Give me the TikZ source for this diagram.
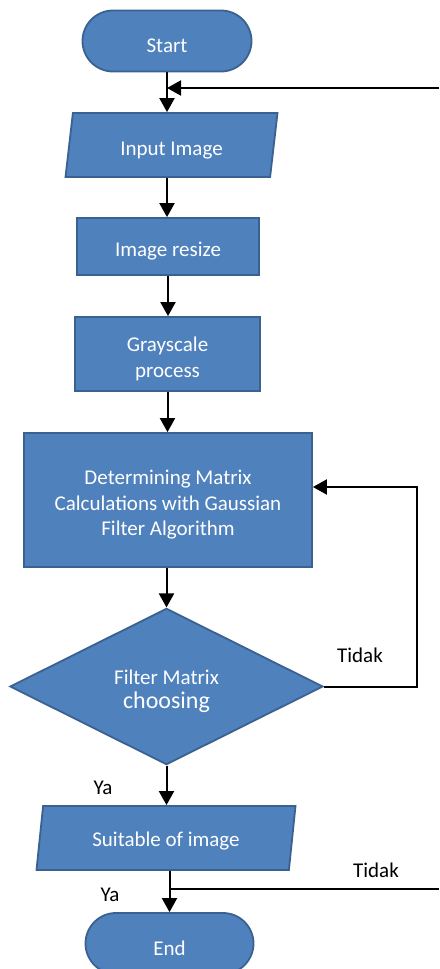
\documentclass[tikz,border=0pt]{standalone}
\usepackage{fontspec}
\setmainfont{Carlito}
\usetikzlibrary{shapes.geometric,shapes.misc,arrows.meta}
\definecolor{boxblue}{HTML}{4F81BD}
\definecolor{boxline}{HTML}{3A6190}
\newcommand{\lowtxt}{\rule{0pt}{24pt}}
\begin{document}
\begin{tikzpicture}[x=1pt,y=-1pt,font=\fontsize{21}{25.5}\selectfont,
 box/.style={draw=boxline,line width=1.8pt,fill=boxblue,text=white,align=center,inner sep=0pt},
 term/.style={box,rounded rectangle},
 io/.style={box,trapezium,trapezium left angle=75,trapezium right angle=105,trapezium stretches body},
 arr/.style={line width=2pt,-{Triangle[width=15pt,length=14pt]}},
 lbl/.style={inner sep=0pt}]
\useasboundingbox (0,0) rectangle (439,969);
\node[term,minimum width=169,minimum height=61] (start) at (167,41) {\lowtxt Start};
\node[io,minimum width=212,minimum height=64] (in) at (171.5,145) {\lowtxt Input Image};
\node[box,minimum width=182,minimum height=57] (rs) at (168,246.5) {\lowtxt Image resize};
\node[box,minimum width=185,minimum height=74] (gs) at (167.5,354) {\lowtxt Grayscale\\process};
\node[box,minimum width=288,minimum height=134] (dm) at (168,500) {\lowtxt Determining Matrix\\Calculations with Gaussian\\Filter Algorithm};
\node[box,diamond,minimum width=313,minimum height=155] (dc) at (166.5,686.5) {\lowtxt Filter Matrix\\[-2pt]{\fontsize{24}{26}\selectfont choosing}};
\node[io,minimum width=259,minimum height=64] (su) at (166,838) {\rule{0pt}{21pt}Suitable of image};
\node[term,minimum width=168,minimum height=61] (en) at (169.5,943.5) {\lowtxt End};
\coordinate (fb1) at (439,88);
\coordinate (fb2) at (439,889);
\coordinate (lp) at (417,487);
\node[lbl] (tidak1) at (360,655) {Tidak};
\node[lbl] (ya1) at (103,788) {Ya};
\node[lbl] (tidak2) at (376,870) {Tidak};
\node[lbl] (ya2) at (110,895) {Ya};
\draw[arr] (start.south) -- (start.south |- in.north);
\draw[arr] (fb1) -- (fb1 -| start.south);
\draw[arr] (start.south |- in.south) -- (start.south |- rs.north);
\draw[arr] (rs.south) -- (rs.south |- gs.north);
\draw[arr] (gs.south) -- (gs.south |- dm.north);
\draw[arr] (dc.north |- dm.south) -- (dc.north);
\draw[arr] (dc.east) -| (lp) -- (lp -| dm.east);
\draw[arr] (dc.south) -- (dc.south |- su.north);
\draw[arr] (en.north |- su.south) -- (en.north);
\draw[line width=2pt] (fb2) -- (fb2 -| en.north);
\end{tikzpicture}
\end{document}
